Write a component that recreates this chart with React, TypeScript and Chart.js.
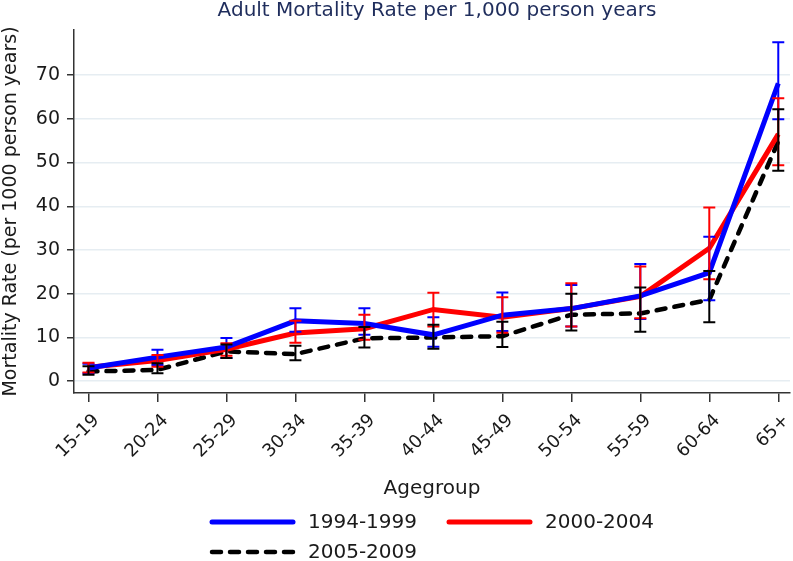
import React, { useEffect, useRef } from "react";
import { Chart, registerables } from "chart.js";

Chart.register(...registerables);

// ---- Data ----
const ageGroups = ["15-19", "20-24", "25-29", "30-34", "35-39", "40-44", "45-49", "50-54", "55-59", "60-64", "65+"];

const rate1994 = [3.0, 5.5, 7.8, 13.8, 13.2, 10.6, 15.1, 16.6, 19.5, 24.8, 68.1];
const lo1994 = [1.8, 3.7, 5.3, 11.3, 10.6, 7.9, 11.5, 12.5, 14.2, 18.5, 59.9];
const hi1994 = [4.0, 7.2, 9.9, 16.7, 16.7, 14.6, 20.3, 22.0, 26.8, 33.0, 77.5];

const rate2000 = [3.2, 4.7, 7.3, 11.0, 12.0, 16.4, 14.6, 16.6, 19.4, 30.4, 56.5];
const lo2000 = [2.0, 3.3, 5.8, 8.8, 9.5, 12.5, 11.1, 12.5, 14.4, 23.3, 49.4];
const hi2000 = [4.2, 6.0, 8.7, 13.8, 15.2, 20.2, 19.2, 22.4, 26.2, 39.7, 64.7];

const rate2005 = [2.2, 2.6, 6.8, 6.2, 9.8, 10.0, 10.3, 15.2, 15.5, 18.6, 54.8];
const lo2005 = [1.5, 1.8, 5.3, 4.8, 7.7, 7.4, 7.8, 11.6, 11.3, 13.5, 48.1];
const hi2005 = [3.4, 4.1, 8.4, 8.1, 12.4, 12.9, 13.6, 20.0, 21.4, 25.2, 62.2];

const seriesLabels = ["1994-1999", "2000-2004", "2005-2009"];
const yTicks = [0, 10, 20, 30, 40, 50, 60, 70];

const titleText = "Adult Mortality Rate per 1,000 person years";
const yTitle = "Mortality Rate (per 1000 person years)";
const xTitle = "Agegroup";

const FONT = "'DejaVu Sans', sans-serif";

export default function App() {
  const ref = useRef<HTMLCanvasElement>(null);

  useEffect(() => {
    const canvas = ref.current;
    if (!canvas) return;

    const toPts = (arr: number[]) => arr.map((v, i) => ({ x: i, y: v }));

    const errorBars = {
      id: "errorBars",
      afterDatasetsDraw(chart: any) {
        const ctx = chart.ctx;
        const xs = chart.scales.x;
        const ys = chart.scales.y;
        chart.data.datasets.forEach((ds: any) => {
          const lo: number[] = ds.errLo;
          const hi: number[] = ds.errHi;
          ctx.save();
          ctx.strokeStyle = ds.borderColor;
          ctx.lineWidth = 2;
          ctx.setLineDash([]);
          lo.forEach((l, i) => {
            const x = xs.getPixelForValue(i);
            const yl = ys.getPixelForValue(l);
            const yh = ys.getPixelForValue(hi[i]);
            ctx.beginPath();
            ctx.moveTo(x, yl);
            ctx.lineTo(x, yh);
            ctx.moveTo(x - 6, yl);
            ctx.lineTo(x + 6, yl);
            ctx.moveTo(x - 6, yh);
            ctx.lineTo(x + 6, yh);
            ctx.stroke();
          });
          ctx.restore();
        });
      },
    };

    const titleAndLegend = {
      id: "titleAndLegend",
      afterDraw(chart: any) {
        const ctx = chart.ctx;
        const area = chart.chartArea;
        ctx.save();
        ctx.fillStyle = "#1f2d5c";
        ctx.font = `20px ${FONT}`;
        ctx.textAlign = "center";
        ctx.textBaseline = "middle";
        ctx.fillText(titleText, (area.left + area.right) / 2 + 5, 11);

        // legend (two columns, Stata style)
        const cols = [210, 447];
        const rows = [522, 552];
        const lineLen = 85;
        chart.data.datasets.forEach((ds: any, d: number) => {
          const x0 = cols[d % 2];
          const y0 = rows[Math.floor(d / 2)];
          ctx.beginPath();
          ctx.strokeStyle = ds.borderColor;
          ctx.lineWidth = ds.borderWidth;
          ctx.lineCap = "round";
          ctx.setLineDash(ds.borderDash || []);
          ctx.moveTo(x0 + 2, y0);
          ctx.lineTo(x0 + lineLen - 2, y0);
          ctx.stroke();
          ctx.setLineDash([]);
          ctx.fillStyle = "#1a1a1a";
          ctx.font = `20px ${FONT}`;
          ctx.textAlign = "left";
          ctx.textBaseline = "middle";
          ctx.fillText(ds.label, x0 + lineLen + 13, y0 + 1);
        });
        ctx.restore();
      },
    };

    const chart = new Chart(canvas, {
      type: "line",
      data: {
        datasets: [
          {
            label: seriesLabels[0],
            data: toPts(rate1994),
            errLo: lo1994,
            errHi: hi1994,
            borderColor: "#0000ff",
            backgroundColor: "#0000ff",
            borderWidth: 5,
            pointRadius: 0,
            tension: 0,
          },
          {
            label: seriesLabels[1],
            data: toPts(rate2000),
            errLo: lo2000,
            errHi: hi2000,
            borderColor: "#ff0000",
            backgroundColor: "#ff0000",
            borderWidth: 5,
            pointRadius: 0,
            tension: 0,
          },
          {
            label: seriesLabels[2],
            data: toPts(rate2005),
            errLo: lo2005,
            errHi: hi2005,
            borderColor: "#000000",
            backgroundColor: "#000000",
            borderWidth: 4.5,
            borderDash: [9, 9],
            borderCapStyle: "round",
            pointRadius: 0,
            tension: 0,
          },
        ] as any,
      },
      options: {
        animation: false,
        responsive: true,
        maintainAspectRatio: false,
        layout: { padding: { top: 30, right: 3, bottom: 63, left: 0 } },
        plugins: {
          legend: { display: false },
          title: { display: false },
          tooltip: { enabled: false },
        },
        scales: {
          x: {
            type: "linear",
            min: -0.21,
            max: 10.17,
            afterBuildTicks: (scale: any) => {
              scale.ticks = ageGroups.map((_, i) => ({ value: i }));
            },
            afterFit: (scale: any) => {
              scale.height = 105;
              scale.paddingLeft = 0;
              scale.paddingRight = 0;
            },
            ticks: {
              autoSkip: false,
              minRotation: 45,
              maxRotation: 45,
              padding: 8,
              labelOffset: 8,
              color: "#1a1a1a",
              font: { family: FONT, size: 18 },
              callback: (v: any) => ageGroups[v as number] ?? "",
            },
            grid: {
              drawOnChartArea: false,
              drawTicks: true,
              tickLength: 9,
              tickColor: "#333333",
              lineWidth: 1.5,
            },
            border: { display: true, color: "#333333", width: 1.5 },
            title: {
              display: true,
              text: xTitle,
              color: "#1a1a1a",
              font: { family: FONT, size: 20 },
              padding: { top: 0, bottom: -3 },
            },
          },
          y: {
            type: "linear",
            min: -2.7,
            max: 80.3,
            afterBuildTicks: (scale: any) => {
              scale.ticks = yTicks.map((v) => ({ value: v }));
            },
            afterFit: (scale: any) => {
              scale.width = 74;
              scale.paddingTop = 0;
              scale.paddingBottom = 0;
            },
            ticks: {
              padding: 7,
              color: "#1a1a1a",
              font: { family: FONT, size: 19 },
            },
            grid: {
              color: "#e6edf2",
              lineWidth: 1.5,
              tickLength: 7,
              tickColor: "#333333",
            },
            border: { display: true, color: "#333333", width: 1.5 },
            title: {
              display: true,
              text: yTitle,
              color: "#1a1a1a",
              font: { family: FONT, size: 19 },
              padding: { top: 0, bottom: 0 },
            },
          },
        },
      } as any,
      plugins: [errorBars, titleAndLegend],
    });

    return () => chart.destroy();
  }, []);

  return (
    <div style={{ position: "fixed", left: 0, top: 0, width: 793, height: 561, background: "#ffffff" }}>
      <canvas ref={ref} />
    </div>
  );
}
